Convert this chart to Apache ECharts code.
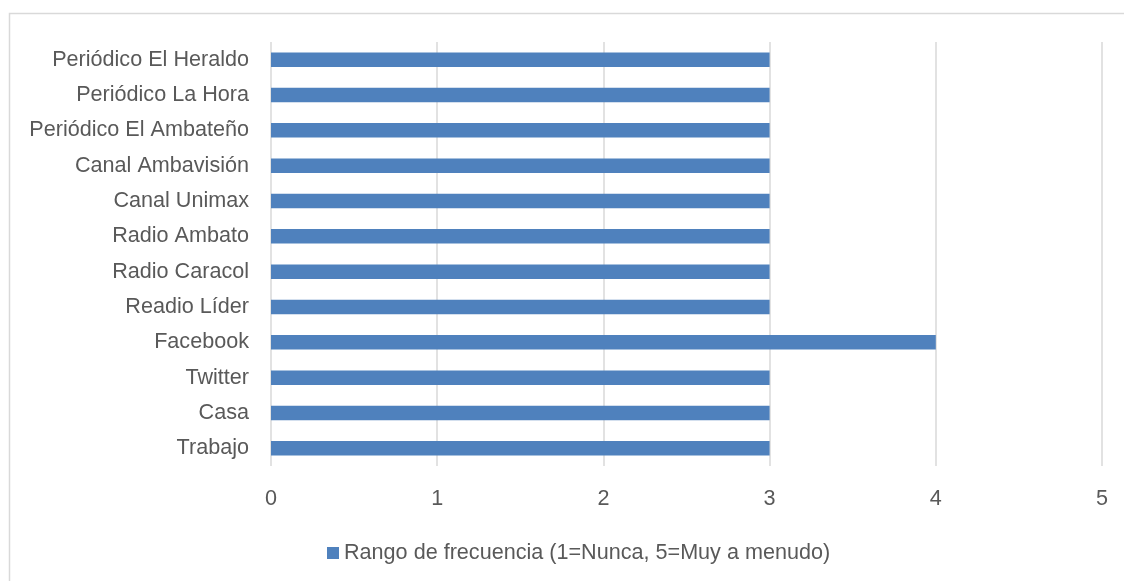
<!DOCTYPE html>
<html>
<head>
<meta charset="utf-8">
<script src="https://cdn.jsdelivr.net/npm/echarts@6/dist/echarts.min.js"></script>
<style>
  html, body { margin: 0; padding: 0; background: #fff; }
  #chart { width: 1124px; height: 581px; }
</style>
</head>
<body>
<div id="chart"></div>
<script>
const categories = [
  "Trabajo", "Casa", "Twitter", "Facebook", "Readio Líder", "Radio Caracol",
  "Radio Ambato", "Canal Unimax", "Canal Ambavisión", "Periódico El Ambateño",
  "Periódico La Hora", "Periódico El Heraldo"
];
const values = [3, 3, 3, 4, 3, 3, 3, 3, 3, 3, 3, 3];
const seriesName = "Rango de frecuencia (1=Nunca, 5=Muy a menudo)";
const xTicks = [0, 1, 2, 3, 4, 5];

const chart = echarts.init(document.getElementById("chart"));
const font = "Liberation Sans";
chart.setOption({
  animation: false,
  color: ["#4f81bd"],
  textStyle: { fontFamily: font },
  graphic: [{
    type: "rect",
    shape: { x: 9.5, y: 13.5, width: 1130, height: 600 },
    style: { fill: "none", stroke: "#d9d9d9", lineWidth: 1.5 },
    silent: true
  }],
  grid: { left: 271, right: 22, top: 42, bottom: 115, containLabel: false },
  legend: {
    data: [seriesName],
    top: 537,
    left: 322,
    icon: "rect",
    itemWidth: 12,
    itemHeight: 12,
    itemGap: 6,
    textStyle: { fontSize: 21.6, color: "#595959", fontFamily: font }
  },
  xAxis: {
    type: "value",
    min: xTicks[0],
    max: xTicks[xTicks.length - 1],
    interval: 1,
    axisLine: { show: false },
    axisTick: { show: false },
    splitLine: { show: true, lineStyle: { color: "#d9d9d9", width: 1.5 } },
    axisLabel: { fontSize: 21.6, color: "#595959", margin: 22, fontFamily: font }
  },
  yAxis: {
    type: "category",
    data: categories,
    axisLine: { show: false },
    axisTick: { show: false },
    axisLabel: { fontSize: 21.6, color: "#595959", margin: 22, fontFamily: font }
  },
  series: [{
    name: seriesName,
    type: "bar",
    data: values,
    barWidth: "41%"
  }]
});
</script>
</body>
</html>
